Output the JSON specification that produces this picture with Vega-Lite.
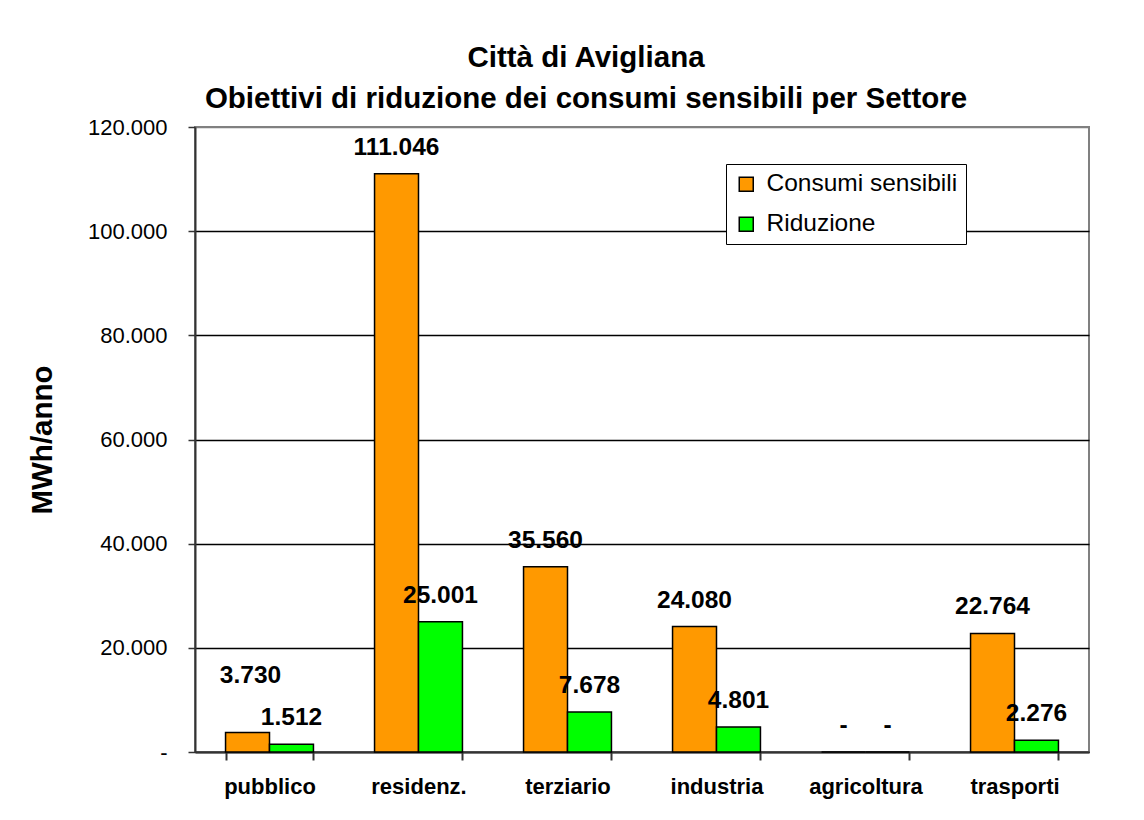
{
  "$schema": "https://vega.github.io/schema/vega-lite/v6.json",
  "autosize": "none",
  "width": 894,
  "height": 625,
  "padding": {"left": 195, "top": 127, "right": 55, "bottom": 68},
  "background": "white",
  "title": {
    "text": ["Città di Avigliana", "Obiettivi di riduzione dei consumi sensibili per Settore"],
    "font": "Liberation Sans",
    "fontSize": 29.5,
    "fontWeight": "bold",
    "color": "black",
    "anchor": "middle",
    "dx": -56,
    "offset": 2,
    "lineHeight": 41
  },
  "data": {
    "values": [
      {"settore": "pubblico", "serie": "Consumi sensibili", "valore": 3730},
      {"settore": "pubblico", "serie": "Riduzione", "valore": 1512},
      {"settore": "residenz.", "serie": "Consumi sensibili", "valore": 111046},
      {"settore": "residenz.", "serie": "Riduzione", "valore": 25001},
      {"settore": "terziario", "serie": "Consumi sensibili", "valore": 35560},
      {"settore": "terziario", "serie": "Riduzione", "valore": 7678},
      {"settore": "industria", "serie": "Consumi sensibili", "valore": 24080},
      {"settore": "industria", "serie": "Riduzione", "valore": 4801},
      {"settore": "agricoltura", "serie": "Consumi sensibili", "valore": 0},
      {"settore": "agricoltura", "serie": "Riduzione", "valore": 0},
      {"settore": "trasporti", "serie": "Consumi sensibili", "valore": 22764},
      {"settore": "trasporti", "serie": "Riduzione", "valore": 2276}
    ]
  },
  "transform": [
    {"calculate": "datum.valore == 0 ? '-' : replace(format(datum.valore, ','), ',', '.')", "as": "etichetta"}
  ],
  "encoding": {
    "x": {
      "field": "settore",
      "type": "nominal",
      "sort": ["pubblico", "residenz.", "terziario", "industria", "agricoltura", "trasporti"],
      "scale": {"paddingInner": 0.41, "paddingOuter": 0.205},
      "axis": {
        "title": null,
        "labelAngle": 0,
        "labelFont": "Liberation Sans",
        "labelFontSize": 22,
        "labelFontWeight": "bold",
        "labelColor": "black",
        "labelPadding": 16,
        "tickBand": "extent",
        "tickSize": 8,
        "tickColor": "#333333",
        "tickWidth": 2,
        "domainColor": "#333333",
        "domainWidth": 2
      }
    },
    "xOffset": {
      "field": "serie",
      "type": "nominal",
      "sort": ["Consumi sensibili", "Riduzione"]
    },
    "y": {
      "field": "valore",
      "type": "quantitative",
      "scale": {"domain": [0, 120000], "nice": false},
      "axis": {
        "title": "MWh/anno",
        "titleFont": "Liberation Sans",
        "titleFontSize": 29.5,
        "titleFontWeight": "bold",
        "titleColor": "black",
        "titlePadding": 30,
        "values": [0, 20000, 40000, 60000, 80000, 100000, 120000],
        "labelExpr": "datum.value == 0 ? '-' : replace(format(datum.value, ','), ',', '.')",
        "labelFont": "Liberation Sans",
        "labelFontSize": 22,
        "labelColor": "black",
        "labelPadding": 21,
        "tickSize": 7,
        "tickColor": "#333333",
        "tickWidth": 1.5,
        "domainColor": "#333333",
        "domainWidth": 2,
        "grid": true,
        "gridColor": {"condition": {"test": "datum.value == 120000", "value": "#808080"}, "value": "black"},
        "gridWidth": 1.3
      }
    }
  },
  "layer": [
    {
      "mark": {"type": "bar", "stroke": "black", "strokeWidth": 1.5},
      "encoding": {
        "color": {
          "field": "serie",
          "type": "nominal",
          "sort": ["Consumi sensibili", "Riduzione"],
          "scale": {"domain": ["Consumi sensibili", "Riduzione"], "range": ["#FF9900", "#00FF00"]},
          "legend": {
            "title": null,
            "orient": "none",
            "legendX": 531,
            "legendY": 37,
            "direction": "vertical",
            "symbolType": "square",
            "symbolSize": 196,
            "symbolStrokeColor": "black",
            "symbolStrokeWidth": 1.5,
            "symbolOpacity": 1,
            "labelFont": "Liberation Sans",
            "labelFontSize": 24.5,
            "labelColor": "black",
            "labelOffset": 8,
            "rowPadding": 15,
            "padding": 8,
            "fillColor": "white",
            "strokeColor": "black",
            "labelLimit": 300
          }
        }
      }
    },
    {
      "transform": [{"filter": "!(datum.settore == 'pubblico' && datum.serie == 'Consumi sensibili')"}],
      "mark": {
        "type": "text",
        "dy": -26,
        "font": "Liberation Sans",
        "fontSize": 24.5,
        "fontWeight": "bold",
        "color": "black",
        "baseline": "middle"
      },
      "encoding": {
        "text": {"field": "etichetta", "type": "nominal"}
      }
    },
    {
      "transform": [{"filter": "datum.settore == 'pubblico' && datum.serie == 'Consumi sensibili'"}],
      "mark": {
        "type": "text",
        "dy": -57,
        "dx": 3,
        "font": "Liberation Sans",
        "fontSize": 24.5,
        "fontWeight": "bold",
        "color": "black",
        "baseline": "middle"
      },
      "encoding": {
        "text": {"field": "etichetta", "type": "nominal"}
      }
    }
  ],
  "config": {
    "view": {"stroke": "#808080", "strokeWidth": 2}
  }
}
